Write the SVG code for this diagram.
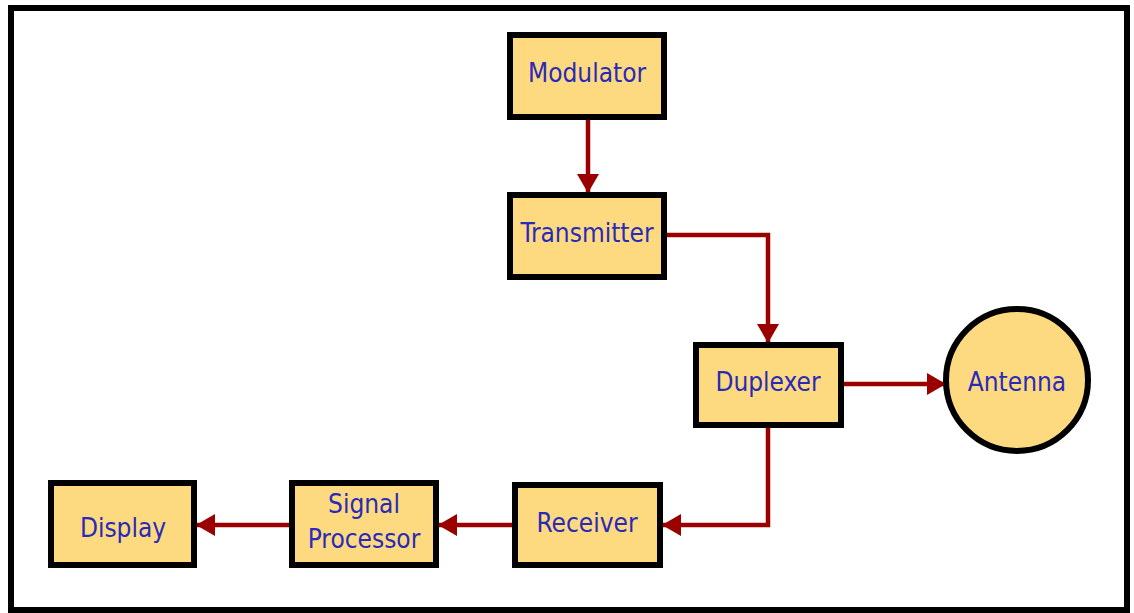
<svg xmlns="http://www.w3.org/2000/svg" width="1134" height="613" viewBox="0 0 1134 613">
  <defs>
    <style>
      .box { fill: #fdda80; stroke: #000; stroke-width: 6; }
      .lbl { font-family: "DejaVu Sans Condensed", "DejaVu Sans", "Liberation Sans", sans-serif; font-stretch: condensed; font-size: 26px; fill: #2a2ab8; text-anchor: middle; }
      .wire { fill: none; stroke: #9a0000; stroke-width: 4.5; }
    </style>
    <marker id="arrow" viewBox="0 0 19 22" refX="18" refY="11" markerWidth="19" markerHeight="22" markerUnits="userSpaceOnUse" orient="auto">
      <path d="M0,0 L19,11 L0,22 Z" fill="#9a0000"/>
    </marker>
  </defs>

  <rect x="0" y="0" width="1134" height="613" fill="#fff"/>
  <!-- outer frame -->
  <rect x="11" y="8" width="1116" height="602" fill="none" stroke="#000" stroke-width="6"/>

  <g id="connectors">
    <path class="wire" d="M588,120 V192" marker-end="url(#arrow)"/>
    <path class="wire" d="M667,235 H768 V342" marker-end="url(#arrow)"/>
    <path class="wire" d="M844,384 H945" marker-end="url(#arrow)"/>
    <path class="wire" d="M768,428 V525 H663" marker-end="url(#arrow)"/>
    <path class="wire" d="M512,525 H439" marker-end="url(#arrow)"/>
    <path class="wire" d="M289,525 H197" marker-end="url(#arrow)"/>
  </g>

  <g id="modulator">
    <rect class="box" x="510" y="35" width="154" height="82"/>
    <text class="lbl" x="587" y="82">Modulator</text>
  </g>
  <g id="transmitter">
    <rect class="box" x="510" y="195" width="154" height="82"/>
    <text class="lbl" x="587" y="242">Transmitter</text>
  </g>
  <g id="duplexer">
    <rect class="box" x="696" y="345" width="145" height="80"/>
    <text class="lbl" x="768" y="391">Duplexer</text>
  </g>
  <g id="antenna">
    <circle class="box" cx="1017" cy="380" r="71"/>
    <text class="lbl" x="1017" y="391">Antenna</text>
  </g>
  <g id="receiver">
    <rect class="box" x="515" y="485" width="145" height="80"/>
    <text class="lbl" x="587" y="532">Receiver</text>
  </g>
  <g id="signal-processor">
    <rect class="box" x="292" y="483" width="144" height="82"/>
    <text class="lbl" x="364" y="513">Signal</text>
    <text class="lbl" x="364" y="548">Processor</text>
  </g>
  <g id="display">
    <rect class="box" x="51" y="483" width="143" height="82"/>
    <text class="lbl" x="123" y="537">Display</text>
  </g>
</svg>
